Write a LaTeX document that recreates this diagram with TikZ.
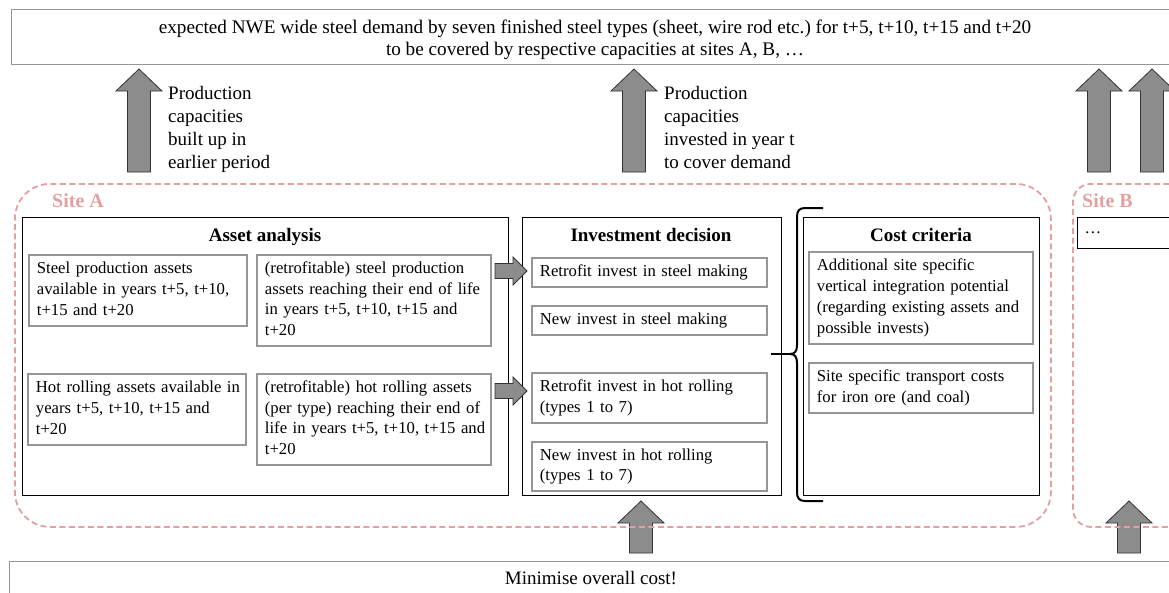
\documentclass[tikz,border=0pt]{standalone}
\usepackage{fontspec}
\setmainfont{Liberation Serif}
\frenchspacing
\definecolor{sitecol}{RGB}{228,160,160}
\definecolor{boxgray}{RGB}{150,150,150}
\definecolor{arrgray}{RGB}{140,140,140}
\newcommand{\bigup}[3]{%
  \draw[blockarr] (#1-11.5,#3) -- (#1-11.5,#2+22) -- (#1-23,#2+22) -- (#1,#2) -- (#1+23,#2+22) -- (#1+11.5,#2+22) -- (#1+11.5,#3) -- cycle;}
\newcommand{\smallright}[3]{%
  \draw[blockarr] (#1,#3-7.5) -- (#2-14,#3-7.5) -- (#2-14,#3-14) -- (#2,#3) -- (#2-14,#3+14) -- (#2-14,#3+7.5) -- (#1,#3+7.5) -- cycle;}
\newcommand{\mltext}[1]{\begin{tabular}{@{}l@{}}#1\end{tabular}}
\begin{document}
\begin{tikzpicture}[x=1pt,y=-1pt,
  every node/.style={font=\fontsize{16.7}{20.8}\selectfont},
  ibox/.style={draw=boxgray, line width=1.8pt, anchor=north west, inner xsep=8pt, inner ysep=2pt, align=left},
  panel/.style={draw=black, line width=0.8pt, anchor=north west, inner sep=0pt},
  ptitle/.style={font=\fontsize{19}{22}\bfseries\selectfont, anchor=base},
  lbl/.style={font=\fontsize{19}{23}\selectfont, align=left, anchor=north west, inner sep=0pt},
  outer/.style={draw=boxgray, line width=1pt, anchor=north west, inner sep=0pt},
  site/.style={draw=sitecol, line width=1.8pt, dash pattern=on 6pt off 3.5pt, anchor=north west, inner sep=0pt},
  sitelbl/.style={text=sitecol, font=\fontsize{20}{22}\bfseries\selectfont, anchor=west, inner sep=0pt},
  blockarr/.style={fill=arrgray, draw=black!80, line width=0.8pt},
  brace/.style={draw=black, line width=2pt}
]
\useasboundingbox (0,0) rectangle (1169,592);
\clip (0,0) rectangle (1169,592);

% top box
\node[outer, minimum width=1169pt, minimum height=55pt] (top) at (11,9) {};
\node[font=\fontsize{19.2}{22}\selectfont, align=center] (toptext) at (595,40) {expected NWE wide steel demand by seven finished steel types (sheet, wire rod etc.) for t+5, t+10, t+15 and t+20\\to be covered by respective capacities at sites A, B, \ldots};

% bottom box
\node[outer, minimum width=1164pt, minimum height=40pt] (bottom) at (9,561) {};
\node[font=\fontsize{19}{22}\selectfont] (bottomtext) at (591,578) {Minimise overall cost!};

% up arrows
\bigup{139}{69}{172}
\bigup{634}{69}{172}
\bigup{1099}{69}{172}
\bigup{1152}{69}{172}
\bigup{641}{501}{553}
\bigup{1129}{501}{553}

\node[lbl] (lbl1) at (168,86) {Production\\capacities\\built up in\\earlier period};
\node[lbl] (lbl2) at (664,86) {Production\\capacities\\invested in year t\\to cover demand};

% sites
\node[site, rounded corners=35pt, minimum width=1036pt, minimum height=343pt] (siteA) at (14,183) {};
\node[sitelbl] (siteAlbl) at (52,201) {Site A};
\node[site, rounded corners=18pt, minimum width=200pt, minimum height=343pt] (siteB) at (1072,183) {};
\node[sitelbl] (siteBlbl) at (1082,201) {Site B};
\node[panel, minimum width=150pt, minimum height=31pt] (siteBbox) at (1077,217) {};
\node[anchor=west] (dots) at (1081,233) {\ldots};

% panels
\node[panel, minimum width=486pt, minimum height=278pt] (asset) at (22,217) {};
\node[ptitle] (assetT) at (265,241) {Asset analysis};
\node[panel, minimum width=259pt, minimum height=278pt] (invest) at (522,217) {};
\node[ptitle] (investT) at (651,241) {Investment decision};
\node[panel, minimum width=236pt, minimum height=278pt] (cost) at (803,217) {};
\node[ptitle] (costT) at (921,241) {Cost criteria};

% asset boxes
\node[ibox, text width=202pt, minimum height=71pt] (a1) at (28,254) {\mltext{Steel production assets\\available in years t+5, t+10,\\t+15 and t+20}};
\node[ibox, text width=218pt, minimum height=91pt] (a2) at (256,254) {\mltext{(retrofitable) steel production\\assets reaching their end of life\\in years t+5, t+10, t+15 and\\t+20}};
\node[ibox, text width=202pt, minimum height=71pt] (a3) at (27,373) {\mltext{Hot rolling assets available in\\years t+5, t+10, t+15 and\\t+20}};
\node[ibox, text width=218pt, minimum height=91pt] (a4) at (256,373) {\mltext{(retrofitable) hot rolling assets\\(per type) reaching their end of\\life in years t+5, t+10, t+15 and\\t+20}};

% invest boxes
\node[ibox, text width=219pt, minimum height=29pt] (i1) at (531,257) {\mltext{Retrofit invest in steel making}};
\node[ibox, text width=219pt, minimum height=29pt] (i2) at (531,305) {\mltext{New invest in steel making}};
\node[ibox, text width=219pt, minimum height=50pt] (i3) at (531,372) {\mltext{Retrofit invest in hot rolling\\(types 1 to 7)}};
\node[ibox, text width=219pt, minimum height=49pt] (i4) at (531,441) {\mltext{New invest in hot rolling\\(types 1 to 7)}};

% cost boxes
\node[ibox, text width=208pt, minimum height=92pt] (c1) at (808,251) {\mltext{Additional site specific\\vertical integration potential\\(regarding existing assets and\\possible invests)}};
\node[ibox, text width=208pt, minimum height=50pt] (c2) at (808,362) {\mltext{Site specific transport costs\\for iron ore (and coal)}};

% small arrows
\smallright{495}{527}{271}
\smallright{495}{527}{391}

% brace
\coordinate (btip) at (790,354);
\draw[brace] (823,208) -- (805,208) .. controls (799,208) and (797,211) .. (797,217) -- (797,345) .. controls (797,351) and (795,354) .. (btip) .. controls (795,354) and (797,357) .. (797,363) -- (797,492) .. controls (797,498) and (799,501) .. (805,501) -- (823,501);
\draw[brace] (invest.east |- btip) ++(-11,0) -- (btip);
\end{tikzpicture}
\end{document}
